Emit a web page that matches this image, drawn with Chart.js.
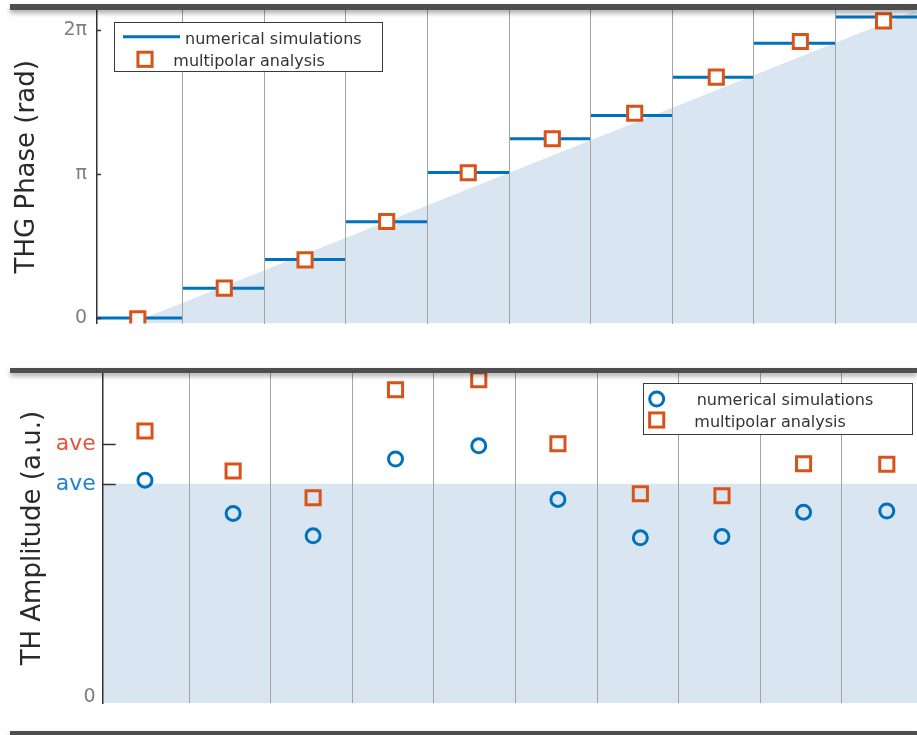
<!DOCTYPE html>
<html>
<head>
<meta charset="utf-8">
<script src="https://cdn.jsdelivr.net/npm/chart.js@4.4.1/dist/chart.umd.min.js"></script>
<style>
  html, body { margin: 0; padding: 0; background: #fff; }
  body { position: relative; width: 917px; height: 735px; overflow: hidden; }
  canvas { position: absolute; left: 0; }
  #phaseChart { top: -30px; }
  #ampChart { top: 340px; }
  .frame-bar {
    position: absolute; left: 10px; width: 907px;
    background: #4e4e4e; box-shadow: 0 3px 5px rgba(0, 0, 0, 0.35); z-index: 5;
  }
</style>
</head>
<body>
<canvas id="phaseChart" width="917" height="375"></canvas>
<canvas id="ampChart" width="917" height="395"></canvas>
<div class="frame-bar" style="top:4px;height:6px"></div>
<div class="frame-bar" style="top:368px;height:5px"></div>
<div class="frame-bar" style="top:731px;height:6px"></div>
<script>
// ---- THG phase (values in units of π) ----
const columnIndex = [0, 1, 2, 3, 4, 5, 6, 7, 8, 9];
const phaseSimulated = [0, 0.208, 0.407, 0.669, 1.012, 1.247, 1.408, 1.675, 1.910, 2.093];
const phaseMultipolarX = [-0.05, 1.01, 2.0, 3.0, 4.0, 5.03, 6.04, 7.04, 8.07, 9.09];
const phaseMultipolar = [-0.005, 0.208, 0.405, 0.671, 1.010, 1.247, 1.424, 1.675, 1.923, 2.066];
const phaseRampX = [-0.5, 9.5];
const phaseRamp = [-0.12, 2.14];
const phaseTicks = [0, 1, 2];
const phaseTickLabels = ['0', 'π', '2π'];

// ---- TH amplitude (a.u.) ----
const ampX = [-0.04, 1.04, 2.02, 3.03, 4.05, 5.02, 6.03, 7.03, 8.03, 9.05];
const ampSimulated = [5.42, 4.59, 4.03, 5.95, 6.28, 4.94, 3.98, 4.01, 4.62, 4.65];
const ampMultipolar = [6.65, 5.65, 4.98, 7.68, 7.93, 6.33, 5.08, 5.03, 5.83, 5.82];
const aveSimulated = 5.33;
const aveMultipolar = 6.33;
const ampTicks = [0, aveSimulated, aveMultipolar];
const ampTickLabels = ['0', 'ave', 'ave'];

const FONT = "'DejaVu Sans', sans-serif";
const BLUE = '#0072bd';
const ORANGE = '#d95319';
const SHADE = '#d9e6f1';
const columnEdges = columnIndex.slice(1).map(i => i - 0.5);

// Inward tick marks on the y axis and a boxed legend inside the plot
const panelDecor = {
  id: 'panelDecor',
  afterDraw(chart, args, opts) {
    const ctx = chart.ctx;
    const yScale = chart.scales.y;
    const area = chart.chartArea;
    ctx.save();
    ctx.strokeStyle = '#333';
    ctx.lineWidth = 1.5;
    opts.tickValues.forEach(v => {
      const py = Math.round(yScale.getPixelForValue(v)) + 0.5;
      ctx.beginPath();
      ctx.moveTo(area.left, py);
      ctx.lineTo(area.left + opts.tickLength, py);
      ctx.stroke();
    });
    const L = opts.legend;
    ctx.fillStyle = '#fff';
    ctx.fillRect(L.x, L.y, L.w, L.h);
    ctx.strokeStyle = '#3a3a3a';
    ctx.lineWidth = 1;
    ctx.strokeRect(L.x + 0.5, L.y + 0.5, L.w, L.h);
    ctx.font = '16px ' + FONT;
    ctx.textBaseline = 'alphabetic';
    ctx.textAlign = 'left';
    L.items.forEach(item => {
      const ds = chart.data.datasets[item.dataset];
      if (item.kind === 'line') {
        ctx.strokeStyle = ds.borderColor;
        ctx.lineWidth = ds.borderWidth;
        ctx.beginPath();
        ctx.moveTo(item.mx, item.my);
        ctx.lineTo(item.mx2, item.my);
        ctx.stroke();
      } else if (item.kind === 'rect') {
        ctx.strokeStyle = ds.pointBorderColor;
        ctx.lineWidth = ds.pointBorderWidth;
        ctx.fillStyle = '#fff';
        const h = ds.pointRadius * Math.SQRT1_2;
        ctx.fillRect(item.mx - h, item.my - h, 2 * h, 2 * h);
        ctx.strokeRect(item.mx - h, item.my - h, 2 * h, 2 * h);
      } else {
        ctx.strokeStyle = ds.pointBorderColor;
        ctx.lineWidth = ds.pointBorderWidth;
        ctx.beginPath();
        ctx.arc(item.mx, item.my, ds.pointRadius, 0, Math.PI * 2);
        ctx.stroke();
      }
      ctx.fillStyle = '#333';
      ctx.fillText(ds.label, item.tx, item.ty);
    });
    ctx.restore();
  }
};

function panelScales(cfg) {
  return {
    x: {
      type: 'linear', min: cfg.xMin, max: cfg.xMax,
      border: { display: false },
      grid: { color: '#a3a3a3', lineWidth: 1, drawTicks: false, z: 1 },
      ticks: { display: false },
      afterBuildTicks: s => { s.ticks = columnEdges.map(v => ({ value: v })); },
      afterFit: s => { s.height = 0; }
    },
    y: {
      type: 'linear', min: cfg.yMin, max: cfg.yMax,
      border: { display: true, color: '#333', width: 1.5, z: 2 },
      grid: { display: false, drawTicks: false },
      title: {
        display: true, text: cfg.title, color: '#2a2a2a',
        font: { family: FONT, size: 26 },
        padding: { top: cfg.titlePad, bottom: 0 }
      },
      ticks: {
        autoSkip: false, padding: cfg.tickPad,
        color: c => cfg.tickColors[c.index],
        font: c => ({ family: FONT, size: cfg.tickSizes[c.index] }),
        callback: (v, i) => cfg.tickLabels[i]
      },
      afterBuildTicks: s => { s.ticks = cfg.ticks.map(v => ({ value: v })); },
      afterFit: s => { s.width = cfg.yWidth; }
    }
  };
}

// Horizontal step segments, one per column
const stepPoints = [];
columnIndex.forEach((c, i) => {
  const left = i === 0 ? -0.55 : c - 0.5;
  const right = i === columnIndex.length - 1 ? 9.5 : c + 0.5;
  stepPoints.push({ x: left, y: phaseSimulated[i] }, { x: right, y: phaseSimulated[i] }, { x: right, y: null });
});

new Chart(document.getElementById('phaseChart'), {
  type: 'line',
  data: {
    datasets: [
      {
        label: 'ramp', order: 10,
        data: phaseRampX.map((x, i) => ({ x, y: phaseRamp[i] })),
        borderWidth: 0, pointRadius: 0, fill: 'start', backgroundColor: SHADE, clip: 0
      },
      {
        label: 'numerical simulations', order: 2,
        data: stepPoints, spanGaps: false,
        borderColor: BLUE, borderWidth: 3, borderCapStyle: 'butt', pointRadius: 0, fill: false, clip: 0
      },
      {
        label: 'multipolar analysis', order: 1,
        data: phaseMultipolarX.map((x, i) => ({ x, y: phaseMultipolar[i] })),
        showLine: false, pointStyle: 'rect', pointRadius: 10,
        pointBorderColor: ORANGE, pointBorderWidth: 3, pointBackgroundColor: '#fff', clip: 0
      }
    ]
  },
  options: {
    responsive: false, animation: false,
    layout: { autoPadding: false, padding: { left: 0, right: 0, top: 40, bottom: 13.3 } },
    scales: panelScales({
      xMin: -0.55, xMax: 9.5, yMin: -0.0386, yMax: 2.142,
      title: 'THG Phase (rad)', titlePad: 11.4, tickPad: 10, yWidth: 97,
      ticks: phaseTicks, tickLabels: phaseTickLabels,
      tickColors: ['#7f7f7f', '#7f7f7f', '#7f7f7f'], tickSizes: [19, 19, 19]
    }),
    plugins: {
      legend: { display: false }, tooltip: { enabled: false },
      panelDecor: {
        tickValues: phaseTicks, tickLength: 4,
        legend: {
          x: 114, y: 52, w: 268, h: 49,
          items: [
            { dataset: 1, kind: 'line', mx: 123, mx2: 180, my: 66.7, tx: 185, ty: 73.5 },
            { dataset: 2, kind: 'rect', mx: 145, my: 89.3, tx: 173.3, ty: 96 }
          ]
        }
      }
    }
  },
  plugins: [panelDecor]
});

new Chart(document.getElementById('ampChart'), {
  type: 'line',
  data: {
    datasets: [
      {
        label: 'below average', order: 10,
        data: [{ x: -0.6, y: aveSimulated }, { x: 9.5, y: aveSimulated }],
        borderWidth: 0, pointRadius: 0, fill: 'start', backgroundColor: SHADE, clip: 0
      },
      {
        label: 'numerical simulations', order: 2,
        data: ampX.map((x, i) => ({ x, y: ampSimulated[i] })),
        showLine: false, pointStyle: 'circle', pointRadius: 7,
        pointBorderColor: BLUE, pointBorderWidth: 3, pointBackgroundColor: 'rgba(0,0,0,0)', clip: 0
      },
      {
        label: 'multipolar analysis', order: 1,
        data: ampX.map((x, i) => ({ x, y: ampMultipolar[i] })),
        showLine: false, pointStyle: 'rect', pointRadius: 10,
        pointBorderColor: ORANGE, pointBorderWidth: 3, pointBackgroundColor: 'rgba(0,0,0,0)', clip: 0
      }
    ]
  },
  options: {
    responsive: false, animation: false,
    layout: { autoPadding: false, padding: { left: 0, right: 0, top: 33, bottom: 31.7 } },
    scales: panelScales({
      xMin: -0.558, xMax: 9.42, yMin: -0.1575, yMax: 8.1,
      title: 'TH Amplitude (a.u.)', titlePad: 17.4, tickPad: 7, yWidth: 102.7,
      ticks: ampTicks, tickLabels: ampTickLabels,
      tickColors: ['#7f7f7f', '#1f84d0', '#e2553f'], tickSizes: [19, 22, 22]
    }),
    plugins: {
      legend: { display: false }, tooltip: { enabled: false },
      panelDecor: {
        tickValues: [aveSimulated, aveMultipolar], tickLength: 13,
        legend: {
          x: 643, y: 43, w: 269, h: 51,
          items: [
            { dataset: 1, kind: 'circle', mx: 656.7, my: 59, tx: 696.7, ty: 65 },
            { dataset: 2, kind: 'rect', mx: 656.7, my: 80, tx: 694.3, ty: 86.7 }
          ]
        }
      }
    }
  },
  plugins: [panelDecor]
});
</script>
</body>
</html>
